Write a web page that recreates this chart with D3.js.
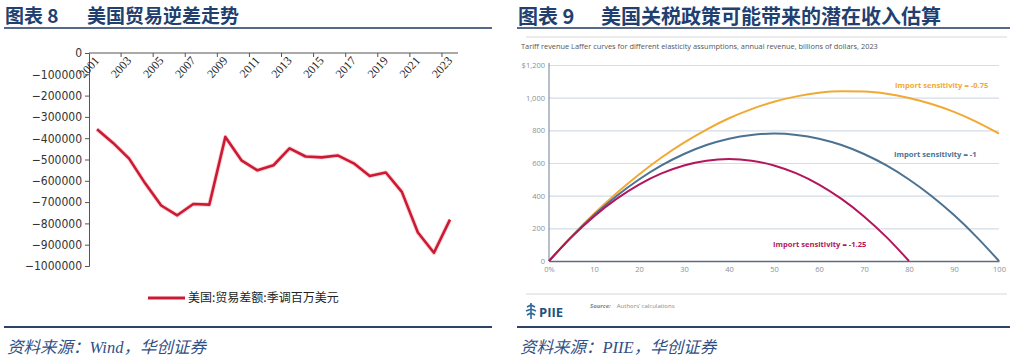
<!DOCTYPE html>
<html>
<head>
<meta charset="utf-8">
<script src="https://cdn.jsdelivr.net/npm/d3@7"></script>
<style>
  body { margin: 0; background: #fff; }
  svg { display: block; }
</style>
</head>
<body>
<div id="chart"></div>
<script>
// left panel: US trade balance, annual, SA, USD mn
const years = d3.range(2001, 2024);
const tradeBalance = [-358000, -422000, -496000, -612000, -716000, -762000, -709000, -712000,
  -394000, -504000, -551000, -527000, -448000, -486000, -490000, -481000, -518000, -577000,
  -561000, -652000, -843000, -938000, -782000];
const yTicksLeft = d3.range(0, -1000001, -100000);
const xLabelsLeft = years.filter((d, i) => i % 2 === 0);

// right panel: Laffer curves
const tariffRate = d3.range(0, 101, 5);
const revEl075 = [0, 150, 289, 415, 530, 634, 725, 805, 874, 930, 975, 1008, 1030, 1039, 1037, 1024, 998, 961, 913, 852, 780];
const revEl100 = [0, 148, 281, 398, 499, 585, 655, 710, 749, 772, 780, 772, 749, 710, 655, 585, 499, 398, 281, 148, 0];
const revEl125 = [0, 146, 273, 380, 468, 536, 585, 614, 624, 614, 585, 536, 468, 380, 273, 146, 0];
const seriesNames = ['Import sensitivity = -0.75', 'Import sensitivity = -1', 'Import sensitivity = -1.25'];
const yTicksRight = [0, 200, 400, 600, 800, 1000, 1200];
const xTicksRight = [0, 10, 20, 30, 40, 50, 60, 70, 80, 90, 100];

const svg = d3.select('#chart')
  .append('svg')
    .attr('width', 1024)
    .attr('height', 364);

const navy = '#22406f';
const cjk = '"Noto Sans CJK SC", "Noto Sans", sans-serif';

// ---- headers / footers for both panels
function frame(x0, x1, num, title, titleX, size, base, source) {
  svg.append('text')
      .attr('x', x0 + 1).attr('y', base)
      .attr('font-family', cjk).attr('font-weight', 700)
      .attr('font-size', size).attr('fill', navy)
      .text('图表 ' + num);
  svg.append('text')
      .attr('x', titleX).attr('y', base)
      .attr('font-family', cjk).attr('font-weight', 700)
      .attr('font-size', size).attr('fill', navy)
      .text(title);
  svg.append('line')
      .attr('x1', x0).attr('x2', x1).attr('y1', 28).attr('y2', 28)
      .attr('stroke', '#56698a').attr('stroke-width', 2);
  svg.append('line')
      .attr('x1', x0).attr('x2', x1).attr('y1', 327).attr('y2', 327)
      .attr('stroke', '#2d4466').attr('stroke-width', 2);
  svg.append('text')
      .attr('x', x0 + 3).attr('y', 353)
      .attr('font-family', '"Liberation Serif", ' + cjk).attr('font-style', 'italic')
      .attr('font-size', 16.5).attr('fill', '#2f4f86')
      .text(source);
}
frame(4, 492, '8', '美国贸易逆差走势', 87, 19, 22.5, '资料来源：Wind，华创证券');
frame(517, 1010, '9', '美国关税政策可能带来的潜在收入估算', 601, 20, 24, '资料来源：PIIE，华创证券');

// ---- left chart
const xL = d3.scaleBand().domain(years).range([89, 458]).padding(0);
const yL = d3.scaleLinear().domain([-1000000, 0]).range([266, 53]);

const gy = svg.append('g')
    .attr('transform', 'translate(89,0)')
    .call(d3.axisLeft(yL).tickValues(yTicksLeft).tickSize(4).tickFormat(d3.format('d')));
gy.selectAll('text')
    .attr('font-family', '"DejaVu Sans Condensed", "DejaVu Sans", sans-serif').attr('font-size', 12).attr('fill', '#333');
gy.select('.domain').attr('stroke', '#555');
gy.selectAll('.tick line').attr('stroke', '#555');

// category axis at the top (y = 0), ticks every two categories at boundaries
svg.append('line')
    .attr('x1', 89).attr('x2', 458).attr('y1', yL(0)).attr('y2', yL(0))
    .attr('stroke', '#555').attr('stroke-width', 1);
svg.selectAll('.xtick')
    .data(xLabelsLeft.slice(1))
    .enter()
    .append('line')
      .attr('x1', d => xL(d)).attr('x2', d => xL(d))
      .attr('y1', yL(0)).attr('y2', yL(0) + 4)
      .attr('stroke', '#555');
svg.selectAll('.xlab')
    .data(xLabelsLeft)
    .enter()
    .append('text')
      .attr('transform', d => `translate(${xL(d) + xL.bandwidth() / 2 + 3},${yL(0) + 8}) rotate(-48)`)
      .attr('text-anchor', 'end')
      .attr('font-family', '"Liberation Serif", serif').attr('font-size', 12).attr('fill', '#222')
      .text(d => d);

const lineL = d3.line()
    .x((d, i) => xL(years[i]) + xL.bandwidth() / 2)
    .y(d => yL(d));
svg.append('path')
    .datum(tradeBalance)
    .attr('d', lineL)
    .attr('fill', 'none')
    .attr('stroke', '#f4b8c0').attr('stroke-width', 4.5)
    .attr('stroke-linejoin', 'round').attr('opacity', 0.6);
svg.append('path')
    .datum(tradeBalance)
    .attr('d', lineL)
    .attr('fill', 'none')
    .attr('stroke', '#cc1a33').attr('stroke-width', 2.6)
    .attr('stroke-linejoin', 'round');

// legend
svg.append('line')
    .attr('x1', 148).attr('x2', 185).attr('y1', 298).attr('y2', 298)
    .attr('stroke', '#cc1a33').attr('stroke-width', 3);
svg.append('text')
    .attr('x', 188).attr('y', 302)
    .attr('font-family', cjk).attr('font-size', 12).attr('fill', '#222')
    .text('美国:贸易差额:季调百万美元');

// ---- right chart
svg.append('line')
    .attr('x1', 526).attr('x2', 1007).attr('y1', 37).attr('y2', 37)
    .attr('stroke', '#d8d8d8');
svg.append('text')
    .attr('x', 521).attr('y', 49)
    .attr('font-family', '"Open Sans", sans-serif').attr('font-size', 7.4).attr('fill', '#555')
    .text('Tariff revenue Laffer curves for different elasticity assumptions, annual revenue, billions of dollars, 2023');

const xR = d3.scaleLinear().domain([0, 100]).range([549, 999]);
const yR = d3.scaleLinear().domain([0, 1200]).range([261, 65]);

const gridR = svg.append('g')
    .attr('transform', 'translate(549,0)')
    .call(d3.axisLeft(yR).tickValues(yTicksRight).tickSize(-450)
      .tickFormat(d => d === 1200 ? '$1,200' : d3.format(',')(d)));
gridR.select('.domain').remove();
gridR.selectAll('.tick line').attr('stroke', '#d5dde6').attr('stroke-width', 1.2);
gridR.selectAll('text')
    .attr('x', -4)
    .attr('font-family', '"Open Sans", sans-serif').attr('font-size', 7.5).attr('fill', '#8a9098');

svg.append('line')
    .attr('x1', 549).attr('x2', 549).attr('y1', 63).attr('y2', 261)
    .attr('stroke', '#6f8090').attr('stroke-width', 1);

const axR = svg.append('g')
    .attr('transform', 'translate(0,261)')
    .call(d3.axisBottom(xR).tickValues(xTicksRight).tickSize(0).tickPadding(6)
      .tickFormat(d => d === 0 ? '0%' : d));
axR.select('.domain').attr('stroke', '#5d6d7e').attr('stroke-width', 1.6);
axR.selectAll('text')
    .attr('font-family', '"Open Sans", sans-serif').attr('font-size', 7.5).attr('fill', '#8a9098');

const curves = [
  { name: seriesNames[0], values: revEl075, color: '#f2a934', lx: 895, ly: 88 },
  { name: seriesNames[1], values: revEl100, color: '#4c7291', lx: 894, ly: 157 },
  { name: seriesNames[2], values: revEl125, color: '#b3165c', lx: 773, ly: 247 }
];
const lineR = d3.line()
    .x((d, i) => xR(tariffRate[i]))
    .y(d => yR(d))
    .curve(d3.curveMonotoneX);
svg.selectAll('.curve')
    .data(curves)
    .enter()
    .append('path')
      .attr('d', d => lineR(d.values))
      .attr('fill', 'none')
      .attr('stroke', d => d.color)
      .attr('stroke-width', 2);
svg.selectAll('.clab')
    .data(curves)
    .enter()
    .append('text')
      .attr('x', d => d.lx).attr('y', d => d.ly)
      .attr('font-family', '"Open Sans", sans-serif').attr('font-weight', 700)
      .attr('font-size', 7.6).attr('fill', d => d.color)
      .text(d => d.name);

// footer of the PIIE chart
svg.append('line')
    .attr('x1', 526).attr('x2', 1007).attr('y1', 294).attr('y2', 294)
    .attr('stroke', '#d8d8d8');
const logo = svg.append('g').attr('transform', 'translate(526,303)');
logo.append('path')
    .attr('d', 'M5,0 L5,16 M1,4 L5,2 L9,4 M0,8 L5,6 L10,8 M1,12 L5,10 L9,12')
    .attr('fill', 'none').attr('stroke', '#2d6a9a').attr('stroke-width', 1.6);
logo.append('text')
    .attr('x', 13).attr('y', 14)
    .attr('font-family', '"Open Sans", sans-serif').attr('font-weight', 700)
    .attr('font-size', 13).attr('fill', '#23507e')
    .text('PIIE');
svg.append('text')
    .attr('x', 590).attr('y', 308)
    .attr('font-family', '"Open Sans", sans-serif').attr('font-size', 6)
    .attr('fill', '#888')
    .call(t => t.append('tspan').attr('font-weight', 700).attr('font-style', 'italic').text('Source:'))
    .call(t => t.append('tspan').attr('dx', 6).text('Authors\u2019 calculations'));
</script>
</body>
</html>
